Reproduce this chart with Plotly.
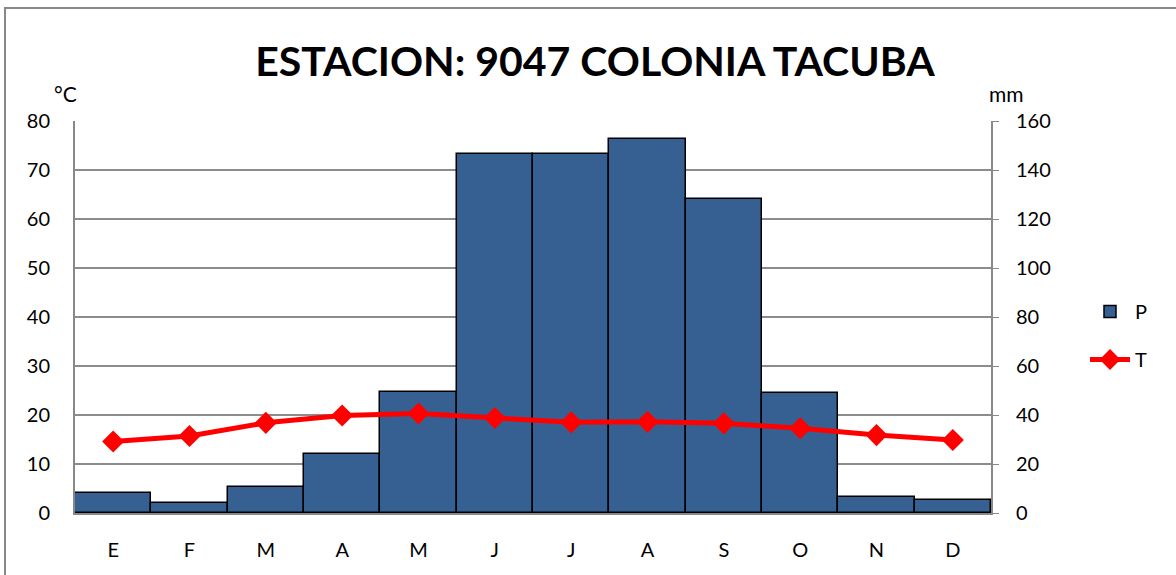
import plotly.graph_objects as go

months = ["E", "F", "M", "A", "M ", "J", "J ", "A ", "S", "O", "N", "D"]
month_labels = ["E", "F", "M", "A", "M", "J", "J", "A", "S", "O", "N", "D"]
precip_mm = [8.2, 4.0, 10.6, 24.0, 49.3, 146.7, 146.7, 152.8, 128.3, 49.1, 6.7, 5.4]
temp_c = [14.6, 15.7, 18.4, 19.9, 20.3, 19.4, 18.5, 18.6, 18.3, 17.3, 15.9, 14.9]
left_ticks = list(range(0, 81, 10))
right_ticks = list(range(0, 161, 20))

FONT = "Lato, Carlito, Calibri, sans-serif"

fig = go.Figure()
fig.add_trace(go.Bar(
    x=months, y=precip_mm, name="P", yaxis="y", legendgroup="p",
    marker=dict(color="#376092", line=dict(color="black", width=1.5)),
))
fig.add_trace(go.Scatter(
    x=months, y=temp_c, name="T", yaxis="y2", mode="lines+markers", legendgroup="t",
    line=dict(color="#FF0000", width=5),
    marker=dict(symbol="diamond", size=17, color="#FF0000"),
))

W, H = 1176, 575
L, R, T, B = 75, 185, 121, 62
pw, ph = W - L - R, H - T - B

fig.update_layout(
    width=W, height=H,
    margin=dict(l=L, r=R, t=T, b=B),
    paper_bgcolor="white", plot_bgcolor="white",
    font=dict(family=FONT, size=20, color="black"),
    bargap=0,
    showlegend=True,
    title=dict(text="<b>ESTACION: 9047 COLONIA TACUBA</b>", x=595 / W, xanchor="center",
               y=1 - 62 / H, yanchor="middle", font=dict(size=41, family=FONT)),
    legend=dict(x=1 + (1085 - L - pw) / pw, y=1 - (292 - T) / ph, xanchor="left", yanchor="top",
                font=dict(size=20), itemwidth=40, traceorder="grouped", tracegroupgap=19,
                bgcolor="rgba(0,0,0,0)"),
    xaxis=dict(
        categoryorder="array", categoryarray=months,
        tickvals=months, ticktext=month_labels, range=[-0.5, 11.5],
        showline=True, linecolor="#888888", linewidth=2,
        ticks="", showgrid=False, ticklabelstandoff=18,
    ),
    yaxis=dict(
        side="right", range=[0, 160], tickvals=right_ticks,
        showgrid=True, gridcolor="#8c8c8c", gridwidth=1.5,
        showline=True, linecolor="#888888", linewidth=2,
        ticks="outside", ticklen=6, tickcolor="#888888", zeroline=False,
        ticklabelstandoff=13,
    ),
    yaxis2=dict(
        side="left", overlaying="y", range=[0, 80], tickvals=left_ticks,
        showgrid=False,
        showline=True, linecolor="#888888", linewidth=2,
        ticks="", zeroline=False, ticklabelstandoff=19,
    ),
    annotations=[
        dict(text="°C", xref="paper", yref="paper", x=(65 - L) / pw, y=1 + (T - 93) / ph,
             xanchor="center", yanchor="middle", showarrow=False, font=dict(size=21)),
        dict(text="mm", xref="paper", yref="paper", x=(1006 - L) / pw, y=1 + (T - 93) / ph,
             xanchor="center", yanchor="middle", showarrow=False, font=dict(size=21)),
    ],
    shapes=[
        dict(type="rect", xref="paper", yref="paper",
             x0=(5 - L) / pw, x1=(1180 - L) / pw, y0=-(H + 10 - T - ph) / ph, y1=1 + (T - 8) / ph,
             line=dict(color="#888888", width=2), layer="below"),
    ],
)

fig.write_html("out.html", config={"displayModeBar": False},
               post_script="document.body.style.margin='0px';document.body.style.overflow='hidden';")
